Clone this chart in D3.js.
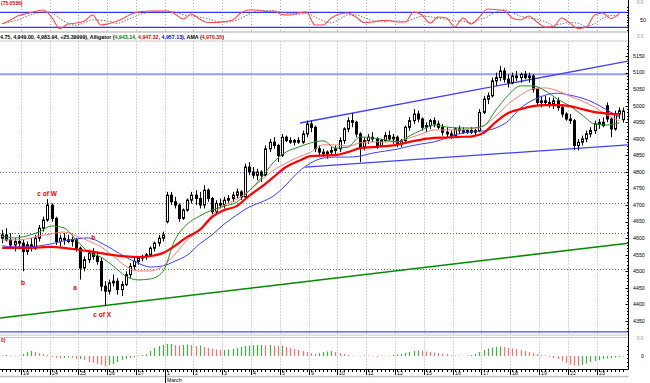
<!DOCTYPE html>
<html><head><meta charset="utf-8">
<script src="https://cdn.jsdelivr.net/npm/d3@7/dist/d3.min.js"></script>
<style>
html,body{margin:0;padding:0;background:#fff;}
svg{display:block;font-family:"Liberation Sans",Arial,sans-serif;}
</style></head><body>
<svg id="c" width="650" height="383"></svg>
<script>
// ---------- DATA ----------
// hourly candles [open, high, low, close]
const candles = [
[4600,4625,4585,4610],[4610,4630,4590,4595],[4595,4615,4570,4580],[4580,4600,4560,4590],[4590,4610,4575,4585],
[4585,4595,4500,4560],[4560,4590,4550,4580],[4580,4600,4560,4570],[4570,4610,4565,4600],[4600,4640,4590,4630],[4630,4665,4620,4655],[4655,4718,4650,4700],
[4700,4705,4650,4660],[4660,4665,4580,4590],[4590,4610,4575,4600],[4600,4615,4580,4595],[4595,4610,4585,4590],[4590,4605,4575,4595],[4595,4600,4560,4570],
[4570,4575,4475,4510],[4510,4545,4500,4535],[4535,4565,4525,4555],[4555,4570,4535,4545],[4545,4555,4520,4530],[4530,4540,4440,4455],[4455,4470,4395,4440],
[4440,4475,4430,4465],[4465,4490,4455,4470],[4470,4480,4430,4445],[4445,4470,4425,4460],[4460,4500,4455,4490],[4490,4525,4480,4515],[4515,4540,4505,4530],
[4530,4545,4520,4540],[4540,4550,4530,4545],[4545,4555,4535,4550],[4550,4575,4545,4570],[4570,4590,4560,4585],[4585,4610,4575,4600],[4600,4620,4590,4610],
[4650,4740,4645,4730],[4730,4740,4700,4710],[4710,4725,4690,4700],[4700,4705,4650,4660],[4660,4690,4655,4685],[4685,4720,4680,4715],[4715,4740,4705,4730],
[4730,4745,4700,4720],[4720,4740,4690,4700],[4700,4760,4690,4745],[4745,4750,4710,4720],[4720,4725,4670,4680],[4680,4715,4675,4705],[4705,4720,4690,4700],
[4700,4725,4690,4715],[4715,4730,4705,4720],[4720,4740,4710,4730],[4730,4750,4720,4740],[4740,4745,4715,4725],[4725,4825,4720,4815],[4815,4830,4790,4800],
[4800,4815,4780,4790],[4790,4810,4775,4800],[4800,4805,4770,4790],[4790,4880,4785,4870],[4870,4900,4860,4890],[4890,4905,4870,4880],[4880,4885,4830,4850],
[4850,4915,4845,4905],[4905,4910,4890,4895],[4895,4905,4885,4890],[4890,4900,4880,4895],[4895,4905,4885,4890],[4890,4925,4885,4915],[4915,4955,4905,4945],
[4945,4955,4920,4935],[4935,4940,4860,4870],[4870,4880,4845,4860],[4860,4870,4845,4855],[4855,4865,4840,4860],[4860,4875,4850,4865],[4865,4880,4855,4870],
[4870,4905,4860,4895],[4895,4935,4885,4930],[4930,4965,4920,4955],[4955,4978,4935,4950],[4950,4955,4905,4915],[4915,4920,4830,4875],[4875,4905,4865,4895],
[4895,4915,4885,4905],[4905,4920,4890,4900],[4900,4905,4870,4880],[4880,4900,4875,4895],[4895,4920,4890,4910],[4910,4925,4895,4900],[4900,4915,4885,4905],
[4905,4910,4875,4885],[4885,4900,4875,4895],[4895,4940,4890,4935],[4935,4965,4925,4955],[4955,4990,4945,4975],[4975,4985,4950,4960],[4960,4965,4925,4935],
[4935,4950,4920,4940],[4940,4960,4930,4955],[4955,4965,4935,4945],[4945,4955,4930,4935],[4935,4945,4910,4920],[4920,4935,4905,4915],[4915,4925,4900,4910],
[4910,4935,4905,4930],[4930,4940,4915,4925],[4925,4935,4915,4920],[4920,4930,4915,4925],[4925,4935,4915,4920],[4920,4930,4910,4925],[4925,4990,4920,4980],
[4980,5030,4975,5020],[5020,5040,5005,5030],[5030,5085,5025,5075],[5075,5100,5060,5085],[5085,5120,5075,5105],[5105,5115,5070,5080],[5080,5095,5055,5070],
[5070,5100,5065,5090],[5090,5105,5075,5085],[5085,5100,5070,5095],[5095,5105,5080,5085],[5085,5100,5070,5090],[5090,5095,5040,5050],[5050,5055,5000,5010],
[5010,5030,4995,5015],[5015,5030,5000,5010],[5010,5025,4995,5005],[5005,5025,4990,5015],[5015,5025,4985,4995],[4995,5005,4965,4975],[4975,4980,4955,4960],
[4960,4975,4945,4955],[4955,4960,4866,4880],[4880,4900,4865,4890],[4890,4910,4880,4900],[4900,4925,4890,4915],[4915,4935,4905,4925],[4925,4955,4915,4945],
[4945,4960,4930,4950],[4950,4965,4935,4940],[5000,5010,4950,4960],[4960,4965,4905,4930],[4930,4985,4925,4975],[4975,4995,4960,4985],[4958,4994.75,4949,4983.94]
];
// Alligator + AMA, sampled every 3rd bar
const jawBlue = [4577,4574,4574,4577,4583,4592,4598,4601,4586,4565,4543,4525,4513,4516,4531,4549,4583,4610,4643,4670,4694,4709,4728,4761,4800,4827,4842,4845,4845,4848,4857,4863,4869,4878,4885,4891,4903,4915,4921,4924,4933,4954,4993,5017,5032,5038,5032,5023,5008,4987,4966];
const teethRed = [4595,4595,4598,4607,4613,4619,4607,4592,4574,4546,4516,4501,4501,4516,4552,4595,4625,4670,4700,4718,4743,4776,4806,4827,4845,4860,4882,4882,4878,4888,4891,4891,4891,4903,4915,4927,4927,4927,4930,4939,4969,5005,5032,5051,5054,5045,5029,5014,4996,4972,4954];
const lipsGreen = [4607,4601,4607,4619,4637,4631,4595,4558,4543,4516,4486,4474,4477,4498,4595,4643,4667,4685,4697,4709,4743,4782,4830,4860,4875,4888,4894,4872,4875,4906,4903,4897,4891,4909,4927,4942,4936,4933,4933,4939,4987,5032,5060,5060,5045,5020,4999,4972,4945,4942,4949];
const amaLine = [4571,4571,4571,4572,4574,4571,4566,4561,4555,4549,4545,4543,4546,4555,4577,4604,4625,4664,4685,4697,4728,4755,4785,4815,4833,4848,4850,4851,4860,4872,4875,4878,4882,4891,4898,4903,4904,4906,4907,4918,4951,4978,4990,4999,5002,5002,4999,4990,4981,4977,4974];
// Stochastic, sampled every 2nd bar
const stochK = [33,49,67,75,83,89,61,15,33,37,45,69,29,35,45,61,77,83,85,85,85,73,53,73,53,39,39,43,49,77,89,89,83,85,71,69,77,81,29,29,57,73,77,61,39,41,47,47,41,41,81,69,37,61,57,21,57,33,61,93,91,87,57,49,65,41,21,23,57,37,15,21,69,77,55,75];
const stochD = [35,42,50,64,75,82,78,55,36,28,38,50,48,44,36,47,61,74,82,84,85,81,70,66,60,55,44,40,44,56,72,85,87,86,80,75,72,76,62,46,38,53,69,70,59,47,42,45,45,43,54,64,62,56,52,46,45,37,50,62,82,90,78,64,57,52,42,28,34,39,36,24,35,56,67,66];
// oscillator histogram, one per bar
const aoValues = [0.5,1,0.5,-0.5,0.5, 2,4,5, 4,3,2,1, -1,-2,-2.5,-2,-1.5,-2,-3,-3, -4,-6,-7,-8,-9,-10, -9,-8,-6, -4,-3,-2, -1,0.5,1,2, 5,8,10, 11,12,12,
 11,10.5,11,11.5,11,10,10.5,9, 8,7,6.5,6,6, 6.5,7,8,9,10,10.5,11,11, 11,10.5,11,10.5,10,10.5,9,8, 7,6,5,4,3,2, 3,4,4.5,5,4,3,2, 1,0.5,0.3,-0.5,0,
 0.5,-0.5,-1,0.5,0.3,0.5,1,1.5,2, 3,4,5,5.5,5, 4.5,4,3.5,3,2.5,2, 1,0.5,0.5,0.3,0.5,1,2, 4,6,7.5,8.5,9,9.5,9, 8,7.5,7,6,5,4,3, 2,1,0,-1,-2,
 -3,-5,-7,-8.5,-9.5,-10,-9, -7.5,-6,-5,-4,-3,-2.5,-2, -1.5,-1,-0.5];
const dayLabels = ["19","24","25","26","27","1","2","3","4","5","9","10","11","12","15","16","17","18","19","22","23"];
const monthLabels = [{day:5, text:"March"}];
const priceTicks = [5150,5100,5050,5000,4950,4900,4850,4800,4750,4700,4650,4600,4550,4500,4450,4400,4350];
const solidLevels = [5095];
const dottedLevels = [4800,4706,4615,4506];
const bottomLevel = [4317];
const channelLines = [[72.4,4948,152.1,5135],[73.6,4815,152.1,4882]];
const greenTrend = [[-0.5,4359,152.1,4585]];
const annotations = [{t:"c of W",i:10.9,p:4728},{t:"b",i:5.05,p:4459},{t:"a",i:17.7,p:4444},{t:"c of X",i:24.3,p:4362},{t:"b",i:22.1,p:4595}];
const stochLevels = [80,20];
const headerParts = [
 {t:"4.75, 4,949.00, 4,983.94, +25.39999), Alligator (", c:"#000"},
 {t:"4,943.14", c:"#008000"},{t:", ", c:"#000"},
 {t:"4,947.32", c:"#e00000"},{t:", ", c:"#000"},
 {t:"4,957.13", c:"#0000e0"},{t:"), AMA (", c:"#000"},
 {t:"4,970.35", c:"#e00000"},{t:")", c:"#000"}
];
const stochLabel = "(75.0536)";

// ---------- LAYOUT ----------
const firstDayBar = 5, barsPerDay = 7;
const RIGHT = 628.5;
const svg = d3.select("#c");
const x = d3.scaleLinear().domain([0, candles.length-1]).range([2.2, 623.4]);
const y = d3.scaleLinear().domain([4350,5150]).range([321,56.1]);
const ys = d3.scaleLinear().domain([0,100]).range([32.3,7.3]);
const ya = d3.scaleLinear().domain([-12,12]).range([368,344]);

const defs = svg.append("defs");
defs.append("clipPath").attr("id","cm").append("rect").attr("x",0).attr("y",41.5).attr("width",628).attr("height",292.5);
defs.append("clipPath").attr("id","ct").append("rect").attr("x",0).attr("y",0).attr("width",628).attr("height",31.5);
defs.append("clipPath").attr("id","cb").append("rect").attr("x",0).attr("y",337.5).attr("width",628).attr("height",31.5);

svg.append("rect").attr("width",650).attr("height",383).attr("fill","#fff");

const dayBars = dayLabels.map((l,d)=>firstDayBar + barsPerDay*d);
const gx = b => Math.round(x(b-0.5)) + 0.5;

// vertical dotted grid
[[0,31.5],[41.5,334],[337.5,369]].forEach(([a,b])=>{
  svg.append("g").selectAll("line").data(dayBars).join("line")
    .attr("x1",gx).attr("x2",gx).attr("y1",a).attr("y2",b)
    .attr("stroke","#a8a8a8").attr("stroke-width",1).attr("stroke-dasharray","1,2");
});

// panel separators
[[32,"#c4c4c4",1.5],[41,"#c8c8c8",1],[335,"#c4c4c4",1],[337.5,"#c8c8c8",1]].forEach(([yy,c,w])=>{
  svg.append("line").attr("x1",0).attr("x2",RIGHT).attr("y1",yy).attr("y2",yy).attr("stroke",c).attr("stroke-width",w);
});

// ---------- TOP: stochastic ----------
const gt = svg.append("g").attr("clip-path","url(#ct)");
gt.selectAll(".sl").data(stochLevels).join("line")
  .attr("x1",0).attr("x2",RIGHT).attr("y1",d=>ys(d)).attr("y2",d=>ys(d))
  .attr("stroke","#3535ff").attr("stroke-width",1.2);
const sline = d3.line().x((d,k)=>x(2*k)).y(d=>ys(d)).curve(d3.curveMonotoneX);
gt.append("path").attr("d",sline(stochD)).attr("fill","none").attr("stroke","#707070").attr("stroke-width",1).attr("stroke-dasharray","1.5,1.5");
gt.append("path").attr("d",sline(stochK)).attr("fill","none").attr("stroke","#ff4a4a").attr("stroke-width",1.1);
svg.append("text").attr("x",1).attr("y",5).attr("font-size",5).attr("font-weight","bold").attr("fill","#e00000").text(stochLabel);

// header
const ht = svg.append("text").attr("x",0).attr("y",39.3).attr("font-size",5.2).attr("font-weight","bold")
  .attr("textLength",224).attr("lengthAdjust","spacingAndGlyphs");
headerParts.forEach(p=>ht.append("tspan").attr("fill",p.c).text(p.t));

// ---------- MAIN ----------
const gm = svg.append("g").attr("clip-path","url(#cm)");
gm.selectAll(".dl").data(dottedLevels).join("line")
  .attr("x1",0).attr("x2",RIGHT).attr("y1",d=>Math.round(y(d))+0.5).attr("y2",d=>Math.round(y(d))+0.5)
  .attr("stroke","#5a5aff").attr("stroke-width",1).attr("stroke-dasharray","1,2");
gm.selectAll(".hl").data(solidLevels).join("line")
  .attr("x1",0).attr("x2",RIGHT).attr("y1",d=>y(d)).attr("y2",d=>y(d))
  .attr("stroke","#9a9aff").attr("stroke-width",2);
gm.selectAll(".bl").data(bottomLevel).join("line")
  .attr("x1",0).attr("x2",RIGHT).attr("y1",d=>y(d)).attr("y2",d=>y(d))
  .attr("stroke","#4545ff").attr("stroke-width",1.3);
gm.selectAll(".gt").data(greenTrend).join("line")
  .attr("x1",d=>x(d[0])).attr("y1",d=>y(d[1])).attr("x2",d=>x(d[2])).attr("y2",d=>y(d[3]))
  .attr("stroke","#008a00").attr("stroke-width",1.6);
gm.selectAll(".ch").data(channelLines).join("line")
  .attr("x1",d=>x(d[0])).attr("y1",d=>y(d[1])).attr("x2",d=>x(d[2])).attr("y2",d=>y(d[3]))
  .attr("stroke","#4040ff").attr("stroke-width",1.3);

// candles
const cg = gm.append("g");
candles.forEach((c,i)=>{
  const cx = Math.round(x(i))+0.5;
  const [o,h,l,cl] = c;
  cg.append("line").attr("x1",cx).attr("x2",cx).attr("y1",y(h)).attr("y2",y(l)).attr("stroke","#000").attr("stroke-width",1);
  const top = y(Math.max(o,cl)), bot = y(Math.min(o,cl));
  cg.append("rect").attr("x",cx-1).attr("width",2).attr("y",top).attr("height",Math.max(1,bot-top))
    .attr("fill", cl>=o ? "#fff" : "#000").attr("stroke","#000").attr("stroke-width",1);
});

// indicator lines
const iline = d3.line().x((d,j)=>x(3*j)).y(d=>y(d)).curve(d3.curveMonotoneX);
gm.append("path").attr("d",iline(jawBlue)).attr("fill","none").attr("stroke","#3c3cff").attr("stroke-width",1);
gm.append("path").attr("d",iline(teethRed)).attr("fill","none").attr("stroke","#ff7a7a").attr("stroke-width",1);
gm.append("path").attr("d",iline(lipsGreen)).attr("fill","none").attr("stroke","#1f8f1f").attr("stroke-width",1);
gm.append("path").attr("d",iline(amaLine)).attr("fill","none").attr("stroke","#ff0000").attr("stroke-width",2.2);

// annotations
gm.selectAll(".an").data(annotations).join("text")
  .attr("x",d=>x(d.i)).attr("y",d=>y(d.p)).attr("text-anchor","middle")
  .attr("font-size",6.5).attr("font-weight","bold").attr("fill","#e00000").text(d=>d.t);

// ---------- BOTTOM: oscillator ----------
const gb = svg.append("g").attr("clip-path","url(#cb)");
gb.selectAll("line").data(aoValues).join("line")
  .attr("x1",(d,i)=>Math.round(x(i))+0.5).attr("x2",(d,i)=>Math.round(x(i))+0.5)
  .attr("y1",ya(0)).attr("y2",d=>ya(d)===ya(0)?ya(0)-0.5:ya(d))
  .attr("stroke",(d,i)=> i>0 && d<aoValues[i-1] ? "#ff6f6f" : "#3fb13f").attr("stroke-width",1.2);
svg.append("text").attr("x",1).attr("y",341.5).attr("font-size",5).attr("font-weight","bold").attr("fill","#e00000").text("0)");

// ---------- RIGHT AXES ----------
svg.append("line").attr("x1",RIGHT).attr("x2",RIGHT).attr("y1",0).attr("y2",369.5).attr("stroke","#000").attr("stroke-width",1);
// main minor ticks every 10 points
const minor = d3.range(4320, 5190, 10);
svg.append("g").selectAll("line").data(minor).join("line")
  .attr("x1",RIGHT-(d=>0)).attr("x1",d=> d%50===0 ? RIGHT-3 : RIGHT-1.5).attr("x2",RIGHT)
  .attr("y1",d=>Math.round(y(d))+0.5).attr("y2",d=>Math.round(y(d))+0.5)
  .attr("stroke","#000").attr("stroke-width",1);
svg.append("g").selectAll("text").data(priceTicks).join("text")
  .attr("x",633).attr("y",d=>y(d)+1.8).attr("font-size",5.3).attr("fill","#000").text(d=>d);
// stoch ticks
svg.append("g").selectAll("line").data(d3.range(10,101,10)).join("line")
  .attr("x1",RIGHT-1.5).attr("x2",RIGHT).attr("y1",d=>Math.round(ys(d))+0.5).attr("y2",d=>Math.round(ys(d))+0.5)
  .attr("stroke","#000");
svg.append("text").attr("x",640).attr("y",ys(50)+1.8).attr("font-size",5.3).text("50");
// osc ticks
svg.append("g").selectAll("line").data(d3.range(-10,11,4)).join("line")
  .attr("x1",RIGHT-1.5).attr("x2",RIGHT).attr("y1",d=>Math.round(ya(d))+0.5).attr("y2",d=>Math.round(ya(d))+0.5)
  .attr("stroke","#000");
svg.append("text").attr("x",641).attr("y",ya(0)+1.8).attr("font-size",5.3).text("0");
// panel corner marks
[[4],[38],[340]].forEach(([yy])=>{
  svg.append("text").attr("x",637).attr("y",yy).attr("font-size",4.5).attr("fill","#8a8a8a").text("0 0");
});

// ---------- X AXIS ----------
svg.append("line").attr("x1",0).attr("x2",RIGHT).attr("y1",369.5).attr("y2",369.5).attr("stroke","#000");
svg.append("line").attr("x1",0).attr("x2",RIGHT).attr("y1",376.5).attr("y2",376.5).attr("stroke","#bdbdbd").attr("stroke-width",1.5);
svg.append("g").selectAll("line").data(candles).join("line")
  .attr("x1",(d,i)=>Math.round(x(i))+0.5).attr("x2",(d,i)=>Math.round(x(i))+0.5)
  .attr("y1",369.5).attr("y2",372).attr("stroke","#000");
svg.append("g").selectAll("line").data(dayBars).join("line")
  .attr("x1",gx).attr("x2",gx).attr("y1",369.5).attr("y2",375).attr("stroke","#000");
svg.append("g").selectAll("text").data(dayLabels).join("text")
  .attr("x",(d,k)=>gx(dayBars[k])+1.5).attr("y",374.8).attr("font-size",5.3).text(d=>d);
monthLabels.forEach(m=>{
  const mx = gx(dayBars[m.day]);
  svg.append("line").attr("x1",mx).attr("x2",mx).attr("y1",369.5).attr("y2",383).attr("stroke","#000");
  svg.append("text").attr("x",mx+1.5).attr("y",382).attr("font-size",5.3).text(m.text);
});
</script>
</body></html>
